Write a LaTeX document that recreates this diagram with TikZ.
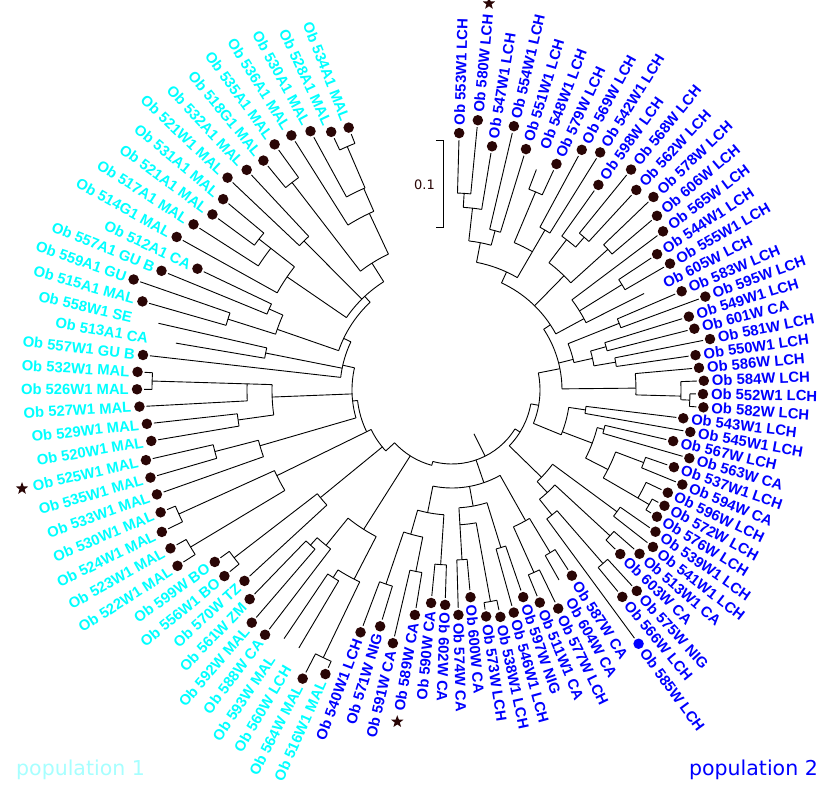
\documentclass[tikz,border=0pt]{standalone}
\usepackage{fontspec}
\setsansfont{Liberation Sans}
\newfontfamily\legendfont{DejaVu Sans}
\usepackage{xcolor}
\definecolor{popone}{HTML}{00FFFF}
\definecolor{poptwo}{HTML}{0000FF}
\definecolor{popfaint}{HTML}{A6FFFF}
\definecolor{dbrown}{HTML}{2A0606}
\usepackage{tikz}
\usetikzlibrary{shapes.geometric}
% angle of leaf position k (fractional k for inner nodes)
\pgfmathdeclarefunction{kang}{1}{\pgfmathparse{88.4-3.869*#1+0.3*max(0,#1-6)+0.15*max(0,#1-12)+0.396*max(0,#1-18)-0.113*max(0,#1-31)-0.333*max(0,#1-43)-0.3*max(0,#1-54)+0.43*max(0,#1-59)+0.05*max(0,#1-69)+0.12*max(0,#1-79)-0.4167*max(0,#1-88)}}
\newcommand{\brstem}[3]{\draw[branch] ({kang(#1)}:#2pt) -- ({kang(#1)}:#3pt);}
\newcommand{\brarc}[3]{\draw[branch] ({kang(#1)}:#3pt) arc[start angle={kang(#1)}, end angle={kang(#2)}, radius=#3pt];}

\begin{document}
\begin{tikzpicture}[x=1pt,y=1pt,
  branch/.style={black, line width=0.9pt},
  leaflab/.style={font=\sffamily\bfseries\fontsize{14.8}{17}\selectfont, inner sep=1pt},
  leafdot/.style={circle, fill=dbrown, minimum size=10.5pt, inner sep=0pt},
  starmark/.style={star, star points=5, star point ratio=2.4, fill=dbrown, minimum size=13pt, inner sep=0pt}]
\useasboundingbox (-452,-396) rectangle (373,390);

% leaves: index / label / dot radius / dot (0 none, 1 brown, 2 blue)
\foreach \k/\txt/\rd/\dt in {
  0/{Ob 553W1 LCH}/257/1, 1/{Ob 580W LCH}/271/1, 2/{Ob 547W1 LCH}/247/1,
  3/{Ob 554W1 LCH}/271/1, 4/{Ob 551W1 LCH}/252/1, 5/{Ob 548W1 LCH}/250/0,
  6/{Ob 579W LCH}/249/1, 7/{Ob 569W LCH}/273/1, 8/{Ob 542W1 LCH}/280/1,
  9/{Ob 598W LCH}/252/1, 10/{Ob 568W LCH}/284/1, 11/{Ob 562W LCH}/272/1,
  12/{Ob 578W LCH}/279/1, 13/{Ob 606W LCH}/269/1, 14/{Ob 565W LCH}/264/1,
  15/{Ob 544W1 LCH}/246/1, 16/{Ob 555W1 LCH}/252/1, 17/{Ob 605W LCH}/229/0,
  18/{Ob 583W LCH}/250/1, 19/{Ob 595W LCH}/270/1, 20/{Ob 549W1 LCH}/248/1,
  21/{Ob 601W CA}/250/1, 22/{Ob 581W LCH}/263/1, 23/{Ob 550W1 LCH}/246/1,
  24/{Ob 586W LCH}/248/1, 25/{Ob 584W LCH}/252/1, 26/{Ob 552W1 LCH}/251/1,
  27/{Ob 582W LCH}/252/1, 28/{Ob 543W1 LCH}/233/1, 29/{Ob 545W1 LCH}/242/1,
  30/{Ob 567W LCH}/227/1, 31/{Ob 563W CA}/247/1, 32/{Ob 537W1 LCH}/235/1,
  33/{Ob 594W CA}/249/1, 34/{Ob 596W LCH}/239/1, 35/{Ob 572W LCH}/242/1,
  36/{Ob 576W LCH}/241/1, 37/{Ob 539W1 LCH}/248/1, 38/{Ob 541W1 LCH}/255/1,
  39/{Ob 513W1 CA}/249/1, 40/{Ob 603W CA}/235/1, 41/{Ob 575W NIG}/273/1,
  42/{Ob 566W LCH}/268/1, 43/{Ob 585W LCH}/315/2, 44/{Ob 587W CA}/221/1,
  45/{Ob 604W CA}/232/0, 46/{Ob 577W LCH}/243/1, 47/{Ob 511W1 CA}/230/1,
  48/{Ob 597W NIG}/219/1, 49/{Ob 546W1 LCH}/231/1, 50/{Ob 538W1 LCH}/232/1,
  51/{Ob 573W LCH}/229/1, 52/{Ob 600W CA}/208/1, 53/{Ob 574W CA}/225/1,
  54/{Ob 602W CA}/215/1, 55/{Ob 590W CA}/214/1, 56/{Ob 589W CA}/228/1,
  57/{Ob 591W CA}/260/1, 58/{Ob 571W NIG}/247/1, 59/{Ob 540W1 LCH}/259/1,
  60/{Ob 516W1 MAL}/311/1, 61/{Ob 564W MAL}/325/1, 62/{Ob 560W LCH}/314/0,
  63/{Ob 593W MAL}/314/0, 64/{Ob 588W CA}/308/1, 65/{Ob 592W MAL}/307/1,
  66/{Ob 561W ZM}/291/1, 67/{Ob 570W TZ}/282/1, 68/{Ob 556W1 BO}/294/1,
  69/{Ob 599W BO}/293/1, 70/{Ob 522W1 MAL}/326/1, 71/{Ob 523W1 MAL}/323/1,
  72/{Ob 524W1 MAL}/323/1, 73/{Ob 530W1 MAL}/316/1, 74/{Ob 533W1 MAL}/313/1,
  75/{Ob 535W1 MAL}/314/1, 76/{Ob 525W1 MAL}/314/1, 77/{Ob 520W1 MAL}/305/1,
  78/{Ob 529W1 MAL}/307/1, 79/{Ob 527W1 MAL}/313/1, 80/{Ob 526W1 MAL}/315/1,
  81/{Ob 532W1 MAL}/315/1, 82/{Ob 557W1 GU B}/311/1, 83/{Ob 513A1 CA}/300/0,
  84/{Ob 558W1 SE}/320/0, 85/{Ob 515A1 MAL}/322/1, 86/{Ob 559A1 GU}/337/1,
  87/{Ob 557A1 GU B}/314/1, 88/{Ob 512A1 CA}/282/1, 89/{Ob 514G1 MAL}/315/1,
  90/{Ob 517A1 MAL}/307/1, 91/{Ob 521A1 MAL}/297/1, 92/{Ob 531A1 MAL}/298/1,
  93/{Ob 521W1 MAL}/309/1, 94/{Ob 532A1 MAL}/301/1, 95/{Ob 518G1 MAL}/297/1,
  96/{Ob 535A1 MAL}/303/1, 97/{Ob 536A1 MAL}/301/1, 98/{Ob 530A1 MAL}/295/1,
  99/{Ob 528A1 MAL}/285/1, 100/{Ob 534A1 MAL}/282/1}{
  \pgfmathsetmacro\a{kang(\k)}
  \pgfmathsetmacro\rl{\rd+7}
  \ifnum\k<55 \let\rot\a \def\anc{west}\else \pgfmathsetmacro\rot{\a+180}\def\anc{east}\fi
  \ifnum\k<60 \def\col{poptwo}\else \def\col{popone}\fi
  \node[leaflab, text=\col, rotate=\rot, anchor=\anc] (lab\k) at (\a:\rl pt) {\txt};
  \ifnum\dt=1 \node[leafdot] (dot\k) at (\a:\rd pt) {};\fi
  \ifnum\dt=2 \node[leafdot, fill=poptwo] (dot\k) at (\a:\rd pt) {};\fi
}

% radial branches: index / inner radius / outer radius
\foreach \k/\ra/\rb in {
  45.8/49/74, 48/74/98, 36/74/80, 57.5/74/78,
  % bottom clade
  45/98/150, 44.5/150/190, 44/190/214, 45/190/218, 46.5/150/200, 46/200/236, 47/200/223,
  50.5/98/118, 48.5/118/165, 48/165/212, 49/165/224, 52.5/118/170, 50.5/135/215,
  50/215/225, 51/215/222, 52/170/201, 53/170/218,
  56.5/98/125, 54.5/125/175, 54/175/208, 55/175/207, 57.75/125/150, 56.5/150/185,
  56/185/221, 57/185/253, 58.5/150/205, 58/205/240, 59/205/252,
  % population 2
  40/80/125, 37.5/125/205, 37/205/241, 38/205/248, 40.9/125/140, 39.5/140/215,
  39/215/242, 40/215/228, 42.25/140/160, 41.5/160/230, 41/230/266, 42/230/261, 43/160/308,
  29/80/88, 33/88/118, 28.5/118/135, 28/135/226, 29/135/235, 32.5/118/150, 30.5/150/157,
  30/157/220, 31/157/240, 34.5/150/175, 32.5/175/205, 32/205/228, 33/205/242,
  35.5/175/228, 34/215/232, 35/228/235, 36/228/234,
  22/88/110, 21/110/125, 18.5/125/180, 18/180/243, 19/180/263, 21.5/125/144,
  20.5/144/160, 20/160/241, 21/160/243, 22.5/144/166, 22/166/256, 23/166/239,
  25.5/110/184, 24/184/241, 26.2/184/229, 25/229/245, 26.5/229/238, 26/238/244, 27/238/245,
  15/110/118, 16.5/118/150, 14/150/257, 15.5/150/200, 15/200/239, 16/200/245, 17/150/215,
  11.5/118/160, 9.5/160/189, 9/189/245, 10.5/189/202, 10/202/277, 11/202/265,
  12.5/160/210, 12/210/272, 13/210/262,
  6/118/130, 2.4/130/150, 1.25/150/183, 0.5/183/197, 0/197/250, 1/197/264, 2/183/240,
  3.5/150/165, 3/165/264, 4/165/245, 7.5/130/185, 5.5/160/215, 5/215/236, 6/215/242,
  7/185/266, 8/185/273,
  % population 1
  62.5/78/165, 61/165/213, 60.5/213/297, 60/297/304, 61/297/318, 62.5/213/222,
  62/222/300, 63/222/300, 64.5/165/200, 64/200/301, 65.5/200/210, 65/210/300, 66/210/284,
  67/78/90, 68/90/170, 67/170/275, 68.5/170/275, 68/275/287, 69/275/286,
  72/90/195, 70.5/195/305, 70/305/319, 71/305/316, 72.5/195/300, 72/300/316, 73/300/309,
  78/95/100, 75/100/200, 74/200/306, 75.5/200/245, 75/245/307, 76/245/307,
  79.25/100/180, 77.5/180/216, 77/216/298, 78/216/300, 80.5/180/300, 79/205/306,
  80/300/308, 81/300/308,
  84/100/112, 82/112/304, 83.5/112/190, 83/190/280, 84/190/301,
  88/112/120, 86/120/185, 85.5/185/235, 85/235/315, 86/235/330, 87.5/185/200,
  87/200/307, 88/200/275,
  94/120/128, 90.5/128/200, 89/200/308, 91.5/200/245, 90/230/300, 91/245/290, 92/245/291,
  93.5/128/210, 93/210/302, 94/210/294,
  97/128/150, 95.5/150/262, 95/262/290, 96/262/296, 99/150/195, 97/195/294,
  99.4/195/220, 98/220/288, 99.5/220/265, 99/265/278, 100/265/275}
  \brstem{\k}{\ra}{\rb};

% node arcs: first index / last index / radius
\foreach \ka/\kb/\r in {
  36/57.5/74,
  45/56.5/98, 44.5/46.5/150, 44/45/190, 46/47/200, 48.5/52.5/118, 48/49/165,
  50.5/52.5/135, 50/51/215, 52/53/170, 54.5/57.75/125, 54/55/175, 56.5/58.5/150,
  56/57/185, 58/59/205,
  29/40/80, 37.5/40.9/125, 37/38/205, 39.5/42.25/140, 39/40/215, 41.5/43/160, 41/42/230,
  22/33/88, 28.5/33/118, 28/29/135, 30.5/34.5/150, 30/31/157, 32.5/35.5/175, 32/33/205,
  34/35.5/215, 35/36/228,
  15/25.5/110, 18.5/21.5/125, 18/19/180, 20.5/22.5/144, 20/21/160, 22/23/166,
  24/26.2/184, 25/26.5/229, 26/27/238,
  6/16.5/118, 14/17/150, 15/16/200, 9.5/12.5/160, 9/10.5/189, 10/11/202, 12/13/210,
  2.4/7.5/130, 1.25/3.5/150, 0.5/2/183, 0/1/197, 3/4/165, 5.5/7.5/160, 5/6/215, 7/8/185,
  57.5/67/78, 61/64.5/165, 60.5/62.5/213, 60/61/297, 62/63/222, 64/65.5/200, 65/66/210,
  67/72/90, 67/68.5/170, 68/69/275, 72/78/95, 70.5/72.5/195, 70/71/305, 72/73/300,
  75/84/100, 74/75.5/200, 75/76/245, 77.5/80.5/180, 77/78/216, 79/80.5/205, 80/81/300,
  82/88/112, 83/84/190, 86/94/120, 85.5/87.5/185, 85/86/235, 87/88/200,
  90.5/97/128, 89/91.5/200, 90/91.5/230, 91/92/245, 93/94/210, 95.5/99/150, 95/96/262,
  97/99.4/195, 98/99.5/220, 99/100/265}
  \brarc{\ka}{\kb}{\r};

% stars
\node[starmark] (star1) at ([shift={({kang(1)}:10pt)}]lab1.east) {};
\node[starmark] (star56) at ([shift={({kang(56)}:10pt)}]lab56.west) {};
\node[starmark] (star76) at ([shift={({kang(76)}:10pt)}]lab76.west) {};

% scale bar
\coordinate (sbtop) at (-9,250);
\coordinate (sbbot) at (-9,163);
\draw[branch] ([xshift=-7pt]sbtop) -- (sbtop) -- (sbbot) -- ([xshift=-7pt]sbbot);
\node[font=\legendfont\fontsize{13}{15}\selectfont, text=dbrown, anchor=east, inner sep=0pt] (sblab) at (-17,205) {0.1};

% legend
\node[font=\legendfont\fontsize{20.5}{24}\selectfont, text=popfaint, anchor=base west, inner sep=0pt] (legone) at (-436,-386) {population 1};
\node[font=\legendfont\fontsize{20.5}{24}\selectfont, text=poptwo, anchor=base east, inner sep=0pt] (legtwo) at (366,-386) {population 2};
\end{tikzpicture}
\end{document}
